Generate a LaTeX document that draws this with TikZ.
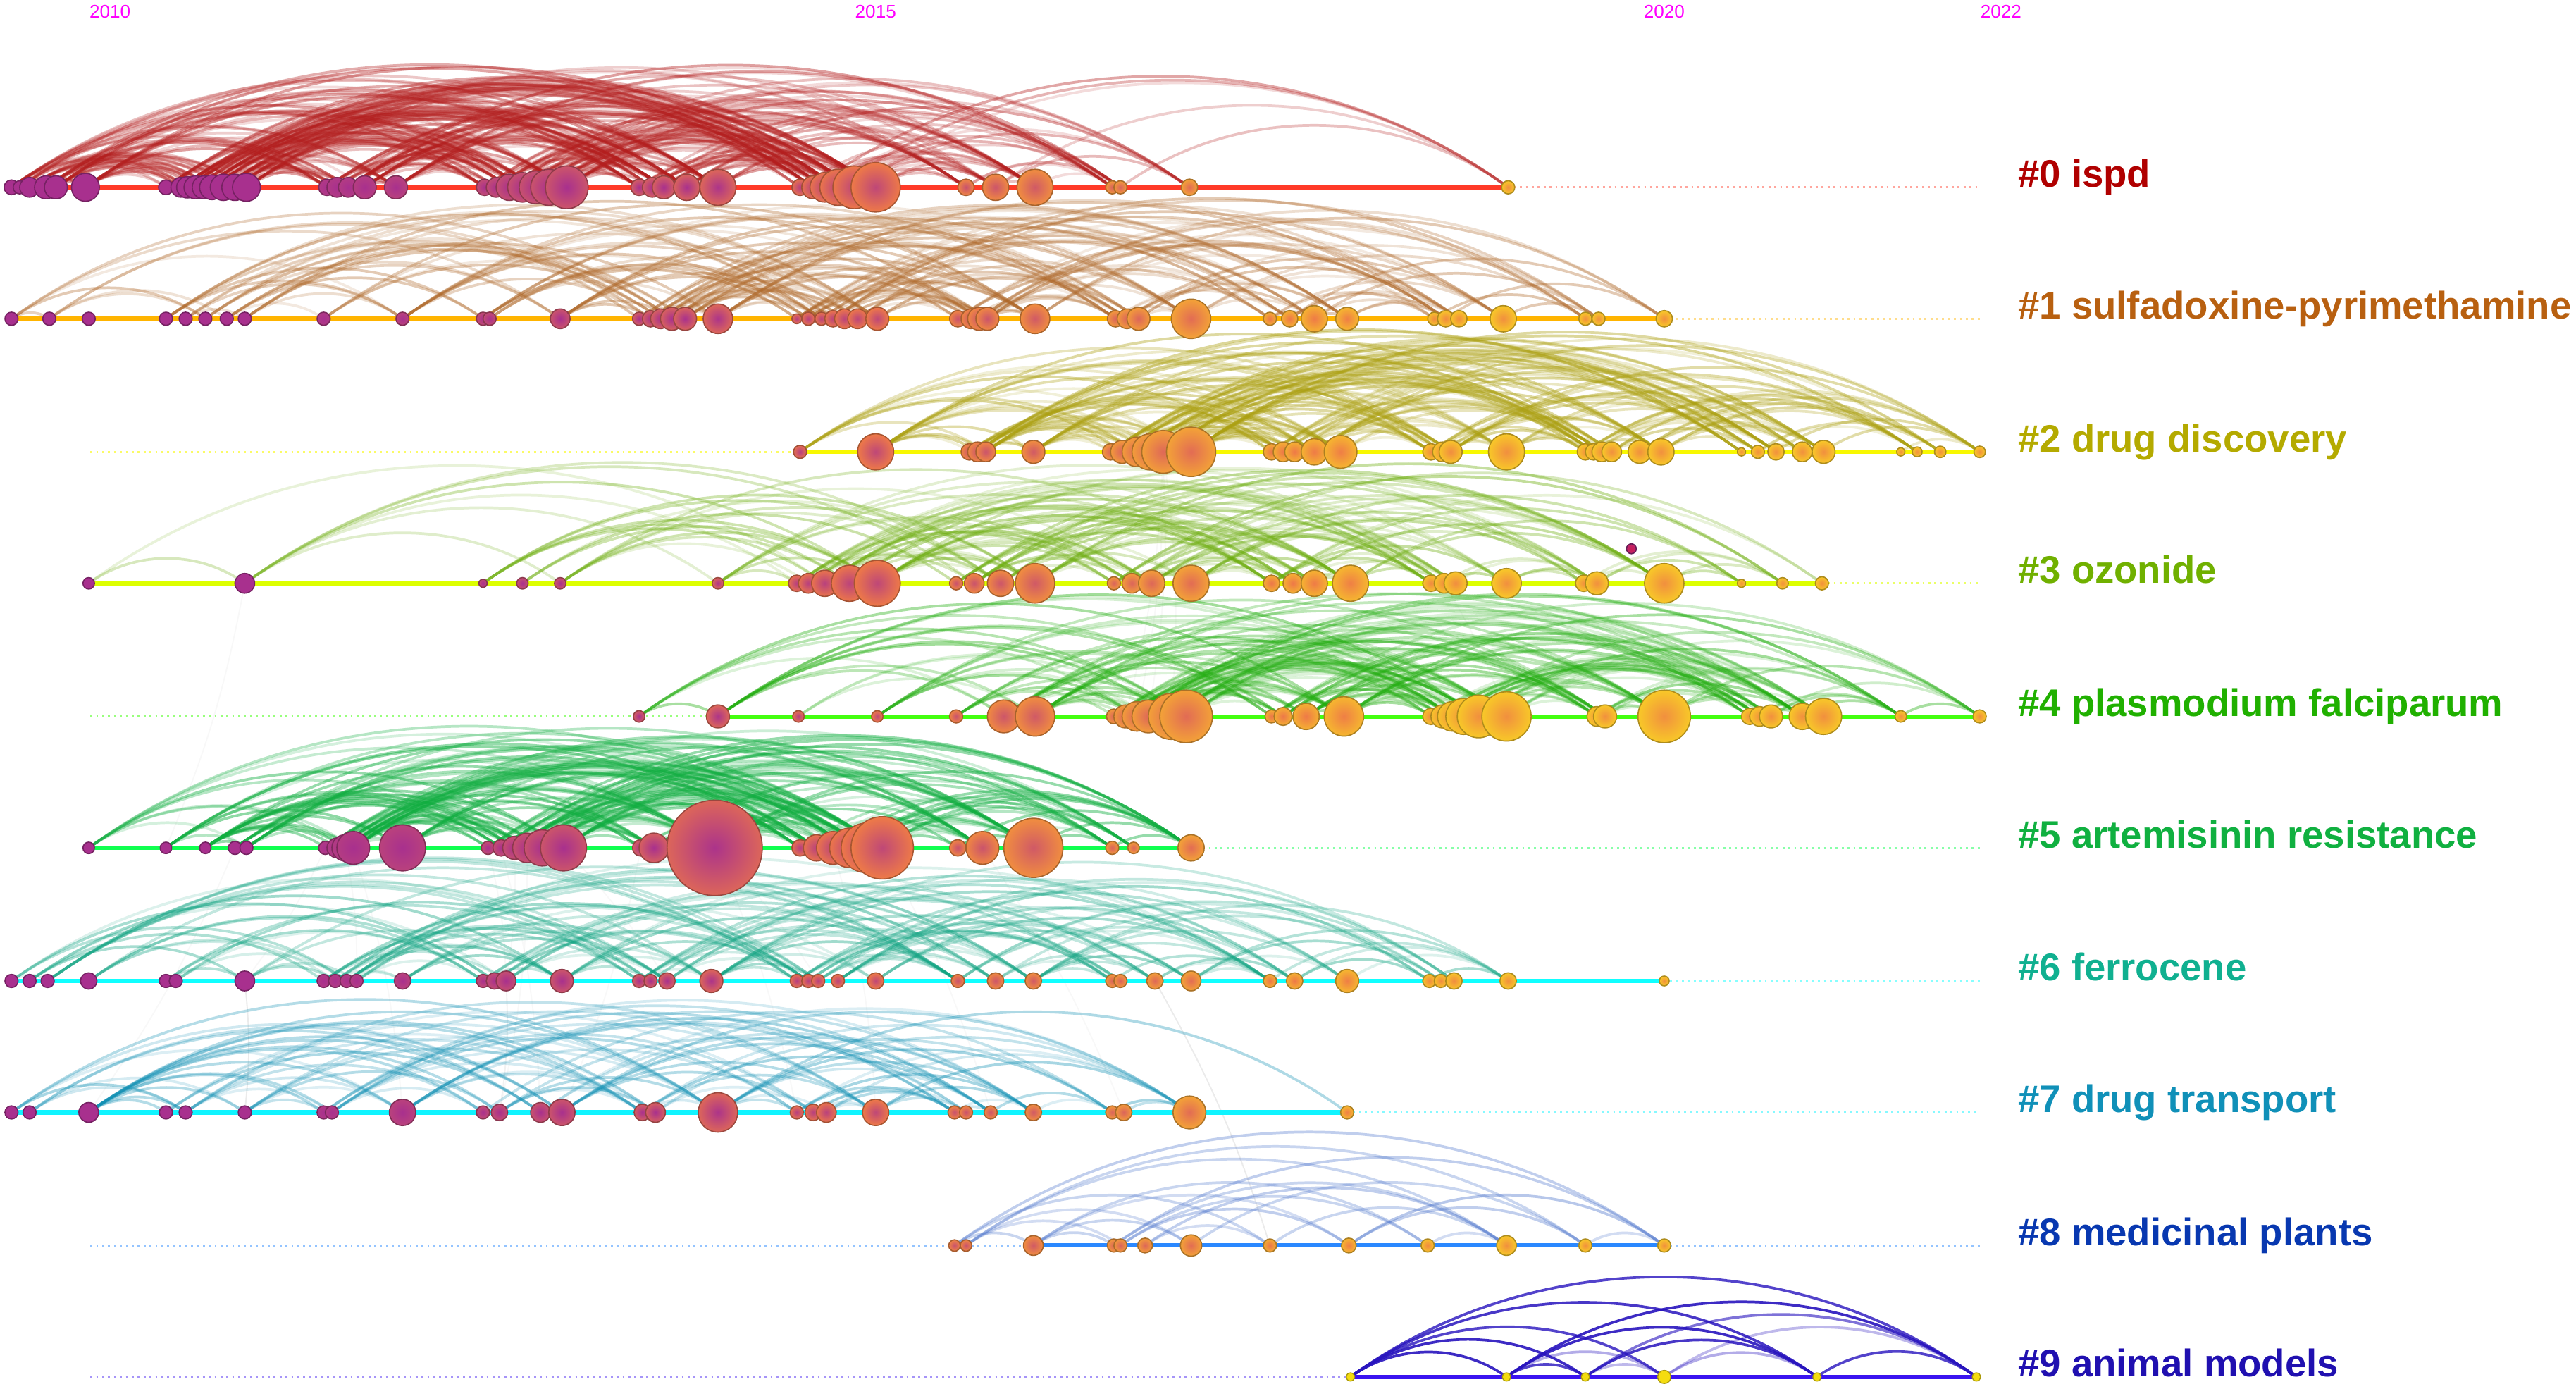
\documentclass[tikz,border=0pt]{standalone}
\usepackage{fontspec}
\setmainfont{Liberation Sans}
\definecolor{cA}{HTML}{A8308E}
\definecolor{cB}{HTML}{EE7848}
\definecolor{cC}{HTML}{F8C828}
\definecolor{a0}{HTML}{B41E1E}\definecolor{a1}{HTML}{B0692A}\definecolor{a2}{HTML}{ACA010}
\definecolor{a3}{HTML}{6EAE10}\definecolor{a4}{HTML}{22AE10}\definecolor{a5}{HTML}{10AE40}
\definecolor{a6}{HTML}{10A482}\definecolor{a7}{HTML}{1090B4}\definecolor{a8}{HTML}{4C74CC}
\definecolor{a9}{HTML}{2814BE}
\definecolor{l0}{HTML}{FF3A28}\definecolor{l1}{HTML}{FFB400}\definecolor{l2}{HTML}{F8F800}
\definecolor{l3}{HTML}{DDFF00}\definecolor{l4}{HTML}{44FF10}\definecolor{l5}{HTML}{10FF50}
\definecolor{l6}{HTML}{10FFFF}\definecolor{l7}{HTML}{10F4FF}\definecolor{l8}{HTML}{2A88FF}
\definecolor{l9}{HTML}{3A14F0}
\definecolor{t0}{HTML}{B00000}\definecolor{t1}{HTML}{B86010}\definecolor{t2}{HTML}{B4AA00}
\definecolor{t3}{HTML}{70B000}\definecolor{t4}{HTML}{20B000}\definecolor{t5}{HTML}{10B040}
\definecolor{t6}{HTML}{10B090}\definecolor{t7}{HTML}{1090B8}\definecolor{t8}{HTML}{0838B0}
\definecolor{t9}{HTML}{2010B0}
\definecolor{yrc}{HTML}{FF00FF}
\definecolor{ylw}{HTML}{F4DC10}

\newdimen\xa \newdimen\xb
\newcommand\setmix[2]{%
  \pgfmathsetmacro\tmpt{#2}%
  \ifdim\tmpt pt<0.5pt
    \pgfmathtruncatemacro\tmpp{200*\tmpt}\colorlet{#1}{cB!\tmpp!cA}%
  \else
    \pgfmathtruncatemacro\tmpp{200*(\tmpt-0.5)}\colorlet{#1}{cC!\tmpp!cB}%
  \fi}
\newcommand\mkrow[3]{%
  \foreach \x/\r [count=\cc] in #3 {\coordinate (#1-\cc) at (\x,-#2);
    \expandafter\xdef\csname rad#1-\cc\endcsname{\r}}}
\newcommand\mknodes[2]{%
  \foreach \x/\r [count=\cc] in #2 {%
    \pgfmathsetmacro\tval{min(max((\x-150)/750,0),1)}%
    \setmix{oc}{\tval}%
    \pgfmathsetmacro\tin{max(\tval-0.35,0)}%
    \setmix{ic}{\tin}%
    \node[bub, minimum size=\r pt, inner color=ic, outer color=oc, draw=oc!70!black] (#1n\cc) at (#1-\cc) {};}}
% #1 row, #2 count, #3 colour, #4 threshold, #5 seed, #6 max opacity
\newcommand\rowarcs[6]{%
  \foreach \ii in {1,...,#2}{%
    \foreach \dd in {1,...,30}{%
      \pgfmathtruncatemacro\jj{\ii+\dd}%
      \ifnum\jj>#2\relax\else
        \pgfextractx{\xa}{\pgfpointanchor{#1-\ii}{center}}%
        \pgfextractx{\xb}{\pgfpointanchor{#1-\jj}{center}}%
        \pgfmathsetmacro\spn{(\xb-\xa)*2}%
        \edef\ri{\csname rad#1-\ii\endcsname}\edef\rj{\csname rad#1-\jj\endcsname}%
        \pgfmathtruncatemacro\hh{mod(\ii*37+\jj*61+mod(\ii*\jj,50)*13+#5,100)}%
        \pgfmathtruncatemacro\okv{(\spn>18)*(\spn<470)*(\hh<#4*(\ri+\rj)/14)}%
        \ifnum\okv=1
          \pgfmathsetmacro\opv{#6*(0.35+0.65*mod(\hh*7,10)/10)}%
          \draw[#3, opacity=\opv, arcE] (#1-\ii) to[arcto] (#1-\jj);
        \fi
      \fi}}}

\def\rowzero{7/4.5,12/4,18/6,28/7,34/7,52/8.5,101/4.5,110/6,114/6.5,119/7,124/7,129/7.5,136/8,143/8,150/8.5,199/5,205/6,212/6,222/7,241/7,295/5,302/6,310/8,318/9,326/10,334/11,345/13,389/5,397/6,404/7,418/8,437/11,487/5,495/7,502/9,510/11,520/13,533/15,588/5,606/8,630/11,677/4,682/4,724/5,918/4}
\def\rowone{7/4,30/4,54/4,101/4,113/4,125/4,138/4,149/4,197/4,245/4,294/4,298/4,341/6,389/4,396/5,402/6,409/7,417/7,437/9,485/3,492/4,500/4,507/5,514/6,522/6,534/7,583/5,591/6,596/7,601/7,630/9,679/5,686/6,693/7,725/12,773/4,785/5,800/8,820/7,873/4,880/5,888/5,915/8,965/4,973/4,1013/5}
\def\rowtwo{487/4,533/11,590/5,595/6,600/6,629/7,676/5,683/7,692/9,700/11,708/13,725/15,774/5,781/6,788/6,800/8,816/10,871/5,878/6,883/7,917/11,965/5,970/5,975/6,981/6,998/7,1011/8,1060/2.5,1070/4,1081/5,1097/6,1110/7,1157/2.5,1167/3,1181/3.5,1205/3.5}
\def\rowthree{54/3.5,149/6,294/2.5,318/3.5,341/3.5,437/3.5,485/5,492/6,502/8,517/11,534/14,582/4,593/6,609/8,630/12,678/4,689/6,701/8,725/11,774/5,787/6,800/8,822/11,871/5,879/6,886/7,917/9,964/5,972/7,1013/12,1060/2.5,1085/3.5,1109/4}
\def\rowfour{389/3.5,437/7,486/3.5,534/3.5,582/4,611/10,630/12,678/4.5,685/7,692/9,699/10,713/14,722/16,774/4,781/5.5,795/8,818/12,871/5,878/7,884/9,891/11,900/13,917/15,972/6,977/7,1013/16,1065/5,1071/6,1078/7,1097/8,1110/11,1157/3.5,1205/4}
\def\rowfive{54/3.5,101/3.5,125/3.5,143/4,150/4,198/4,205/6,210/8,215/10,245/14,297/4,305/5,313/7,321/9,330/11,343/14,390/5,398/9,435/29,487/5,497/8,507/10,517/12,527/15,537/19,583/5,598/10,629/18,677/4,690/3.5,725/8}
\def\rowsix{7/4,18/4,29/4,54/5,101/4,107/4,149/6,197/4,204/4,211/4,217/4,245/5,294/4,301/5,308/6,342/7,389/4,396/4,406/5,433/7,485/4,492/4,498/4,510/4,533/5,583/4,606/5,629/5,677/4,682/4,703/5,725/6,773/4,788/5,820/7,870/4,877/4,885/5,918/5,1013/3}
\def\rowseven{7/4,18/4,54/6,101/4,113/4,149/4,197/4,202/4,245/8,294/4,304/5,329/6,342/8,391/5,399/6,437/12,485/4,495/5,503/6,533/8,581/4,588/4,603/4,629/5,677/4,684/5,724/10,820/4}
\def\roweight{581/3.5,588/3.5,629/6,678/4,682/4,697/4.5,725/6.5,773/4,821/4.5,869/4,917/6,965/4,1013/4}
\def\rownine{822/2.5,917/2.5,965/2.5,1013/4,1106/2.5,1203/2.5}
\def\cnts{{45,46,36,33,33,31,40,28,13,6}}

\tikzset{
  bub/.style={circle, inner sep=0pt, line width=0.35pt, shading=radial},
  solidln/.style={line width=1.3pt},
  dotln/.style={line width=0.6pt, dash pattern=on 0.6pt off 1.2pt},
  lab/.style={anchor=base west, font=\fontsize{11.7}{13}\selectfont\bfseries, inner sep=0pt},
  yr/.style={anchor=base, text=yrc, font=\fontsize{5.6}{6}\selectfont, inner sep=0pt},
  arcE/.style={line width=0.8pt},
  arcto/.style={out=36,in=144,looseness=0.93}
}

\begin{document}
\begin{tikzpicture}[x=0.5pt,y=0.5pt]
\fill[white] (0,0) rectangle (1568,-845);
\useasboundingbox (0,0) rectangle (1568,-845);

% positions
\mkrow{r0}{114}{\rowzero}
\mkrow{r1}{194}{\rowone}
\mkrow{r2}{275}{\rowtwo}
\mkrow{r3}{355}{\rowthree}
\mkrow{r4}{436}{\rowfour}
\mkrow{r5}{516}{\rowfive}
\mkrow{r6}{597}{\rowsix}
\mkrow{r7}{677}{\rowseven}
\mkrow{r8}{758}{\roweight}
\mkrow{r9}{838}{\rownine}
\foreach \rr/\yy in {0/114,1/194,2/275,3/355,4/436,5/516,6/597,7/677,8/758,9/838}{
  \coordinate (r\rr-beg) at (55,-\yy);
  \coordinate (r\rr-end) at (1205,-\yy);}

% faint links between clusters
\foreach \k in {1,...,260}{
  \pgfmathtruncatemacro\ra{mod(\k*3,8)}
  \pgfmathtruncatemacro\rb{min(\ra+1+mod(\k,3),9)}
  \pgfmathtruncatemacro\na{\cnts[\ra]}
  \pgfmathtruncatemacro\nb{\cnts[\rb]}
  \pgfmathtruncatemacro\ia{mod(\k*7,\na)+1}
  \pgfmathtruncatemacro\ib{min(max(round(\ia*\nb/\na)+mod(\k,5)-2,1),\nb)}
  \pgfextractx{\xa}{\pgfpointanchor{r\ra-\ia}{center}}
  \pgfextractx{\xb}{\pgfpointanchor{r\rb-\ib}{center}}
  \pgfmathtruncatemacro\okv{(abs(\xb-\xa)<45)*(\xa>60)*(\xa<470)}
  \ifnum\okv=1
    \draw[black!60, opacity=0.045, line width=0.4pt] (r\ra-\ia) to[bend left=6] (r\rb-\ib);
  \fi
}

% arcs inside each cluster
\rowarcs{r0}{45}{a0}{48}{11}{0.45}
\rowarcs{r1}{46}{a1}{34}{23}{0.4}
\rowarcs{r2}{36}{a2}{45}{5}{0.45}
\rowarcs{r3}{33}{a3}{40}{17}{0.45}
\rowarcs{r4}{33}{a4}{40}{29}{0.45}
\rowarcs{r5}{31}{a5}{42}{3}{0.5}
\rowarcs{r6}{40}{a6}{36}{41}{0.42}
\rowarcs{r7}{28}{a7}{40}{7}{0.42}
\foreach \p/\q/\o in {1/13/0.35,2/12/0.3,4/13/0.35,2/11/0.3,4/11/0.3,9/13/0.4,9/12/0.35,5/9/0.35,3/7/0.3,1/8/0.3,3/4/0.3,6/8/0.25,12/13/0.25,10/11/0.25,3/10/0.3,1/3/0.3,2/7/0.25,6/11/0.35,7/12/0.3,3/9/0.25,8/11/0.3,5/10/0.3,2/5/0.25}
  \draw[a8, arcE, opacity=\o] (r8-\p) to[arcto] (r8-\q);
\foreach \p/\q/\o in {1/6/0.8,1/5/0.85,2/6/0.9,3/6/0.6,2/5/0.9,1/4/0.8,1/3/0.9,3/5/0.85,1/2/0.9,5/6/0.8,4/5/0.35,2/3/0.8,2/4/0.35,3/4/0.3,4/6/0.3}
  \draw[a9, arcE, opacity=\o] (r9-\p) to[arcto] (r9-\q);

% timelines
\draw[l0, solidln] (r0-1) -- (r0-45); \draw[l0!45, dotln] (r0-45) -- (r0-end);
\draw[l1, solidln] (r1-1) -- (r1-46); \draw[l1!45, dotln] (r1-46) -- (r1-end);
\draw[l2!60, dotln] (r2-beg) -- (r2-1); \draw[l2, solidln] (r2-1) -- (r2-36);
\draw[l3, solidln] (r3-1) -- (r3-33); \draw[l3!60, dotln] (r3-33) -- (r3-end);
\draw[l4!55, dotln] (r4-beg) -- (r4-2); \draw[l4, solidln] (r4-2) -- (r4-33);
\draw[l5, solidln] (r5-1) -- (r5-31); \draw[l5!50, dotln] (r5-31) -- (r5-end);
\draw[l6, solidln] (r6-1) -- (r6-40); \draw[l6!50, dotln] (r6-40) -- (r6-end);
\draw[l7, solidln] (r7-1) -- (r7-28); \draw[l7!50, dotln] (r7-28) -- (r7-end);
\draw[l8!50, dotln] (r8-beg) -- (r8-3); \draw[l8, solidln] (r8-3) -- (r8-13); \draw[l8!50, dotln] (r8-13) -- (r8-end);
\draw[l9!45, dotln] (r9-beg) -- (r9-1); \draw[l9, solidln] (r9-1) -- (r9-6);

% citation nodes
\mknodes{r0}{\rowzero}
\mknodes{r1}{\rowone}
\mknodes{r2}{\rowtwo}
\mknodes{r3}{\rowthree}
\mknodes{r4}{\rowfour}
\mknodes{r5}{\rowfive}
\mknodes{r6}{\rowsix}
\mknodes{r7}{\rowseven}
\mknodes{r8}{\roweight}
\foreach \x/\r [count=\cc] in \rownine
  \node[circle, inner sep=0pt, minimum size=\r pt, fill=ylw, draw=ylw!70!black, line width=0.3pt] (r9n\cc) at (r9-\cc) {};
\node[bub, minimum size=3pt, inner color=cA!60!red, outer color=cA!75!red, draw=cA!60!black] (iso) at (993,-334) {};

% cluster labels
\node[lab, text=t0] (lab0) at (1228,-114) {\#0 ispd};
\node[lab, text=t1] (lab1) at (1228,-194) {\#1 sulfadoxine-pyrimethamine};
\node[lab, text=t2] (lab2) at (1228,-275) {\#2 drug discovery};
\node[lab, text=t3] (lab3) at (1228,-355) {\#3 ozonide};
\node[lab, text=t4] (lab4) at (1228,-436) {\#4 plasmodium falciparum};
\node[lab, text=t5] (lab5) at (1228,-516) {\#5 artemisinin resistance};
\node[lab, text=t6] (lab6) at (1228,-597) {\#6 ferrocene};
\node[lab, text=t7] (lab7) at (1228,-677) {\#7 drug transport};
\node[lab, text=t8] (lab8) at (1228,-758) {\#8 medicinal plants};
\node[lab, text=t9] (lab9) at (1228,-838) {\#9 animal models};

% years
\node[yr] (y2010) at (67,-11) {2010};
\node[yr] (y2015) at (533,-11) {2015};
\node[yr] (y2020) at (1013,-11) {2020};
\node[yr] (y2022) at (1218,-11) {2022};
\end{tikzpicture}
\end{document}
